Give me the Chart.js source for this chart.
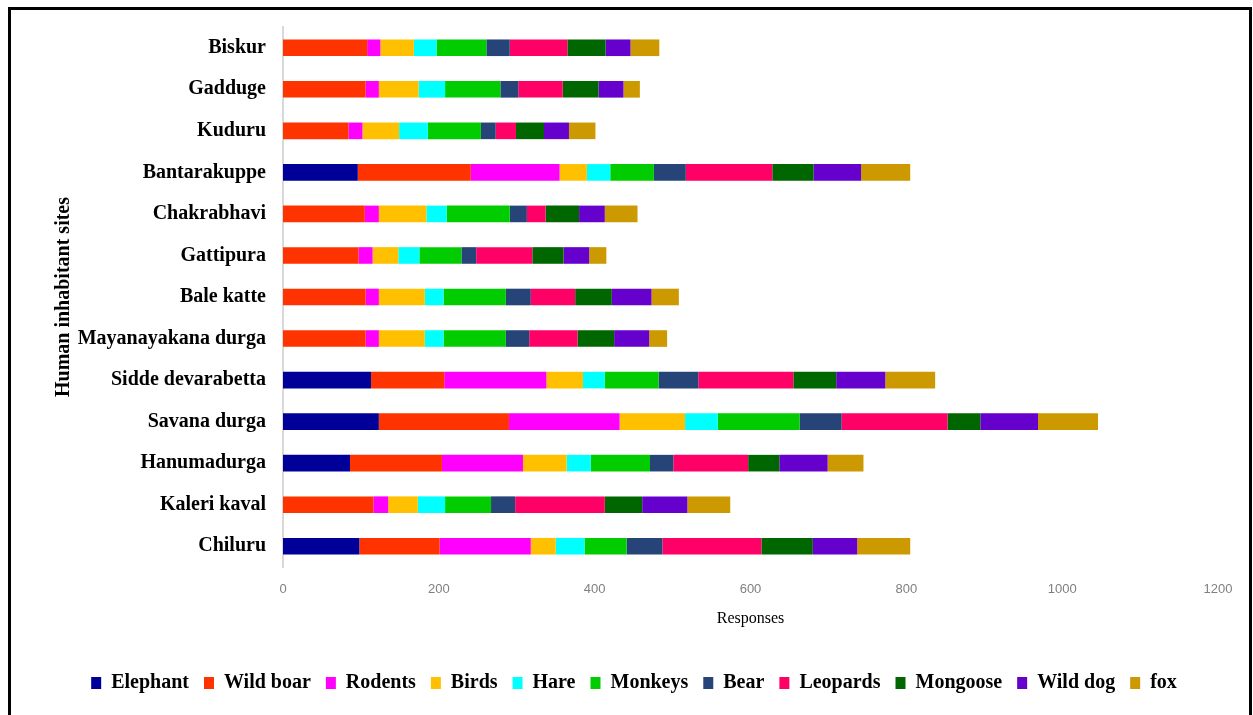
<!DOCTYPE html>
<html>
<head>
<meta charset="utf-8">
<script src="https://cdn.jsdelivr.net/npm/chart.js@4/dist/chart.umd.min.js"></script>
<style>
  html, body { margin: 0; padding: 0; background: #ffffff; }
  #wrap { position: relative; width: 1253px; height: 715px; overflow: hidden; }
  #frame {
    position: absolute; left: 8px; top: 7px; width: 1238px; height: 730px;
    border: 3px solid #000000; pointer-events: none;
  }
  canvas { position: absolute; left: 0; top: 0; }
</style>
</head>
<body>
<div id="wrap">
  <canvas id="chart" width="1253" height="715"></canvas>
  <div id="frame"></div>
</div>
<script>
// Sites, listed top to bottom
const sites = [
  'Biskur', 'Gadduge', 'Kuduru', 'Bantarakuppe', 'Chakrabhavi', 'Gattipura',
  'Bale katte', 'Mayanayakana durga', 'Sidde devarabetta', 'Savana durga',
  'Hanumadurga', 'Kaleri kaval', 'Chiluru'
];

// Responses per animal at each site (same order as sites)
const elephant = [0, 0, 0, 96, 0, 0, 0, 0, 113, 123, 86, 0, 98];
const wildBoar = [108, 106, 84, 145, 105, 97, 106, 106, 94, 167, 118, 116, 103];
const rodents  = [17, 17, 18, 114, 18, 18, 17, 17, 131, 142, 104, 19, 117];
const birds    = [43, 51, 47, 35, 61, 33, 59, 59, 47, 84, 56, 38, 32];
const hare     = [29, 34, 37, 30, 26, 27, 24, 24, 28, 42, 31, 35, 37];
const monkeys  = [64, 71, 68, 56, 81, 54, 80, 80, 69, 105, 76, 59, 54];
const bear     = [30, 23, 19, 41, 22, 19, 32, 30, 51, 54, 30, 31, 46];
const leopards = [74, 57, 26, 111, 24, 72, 57, 62, 122, 136, 96, 115, 127];
const mongoose = [49, 46, 36, 53, 43, 40, 47, 47, 55, 42, 40, 48, 66];
const wildDog  = [32, 32, 32, 61, 33, 33, 51, 45, 63, 74, 62, 58, 57];
const fox      = [37, 21, 34, 63, 42, 22, 35, 23, 64, 77, 46, 55, 68];

const xTicks = [0, 200, 400, 600, 800, 1000, 1200];

const series = [
  { label: 'Elephant',  data: elephant, color: '#000099' },
  { label: 'Wild boar', data: wildBoar, color: '#FF3300' },
  { label: 'Rodents',   data: rodents,  color: '#FF00FF' },
  { label: 'Birds',     data: birds,    color: '#FFC000' },
  { label: 'Hare',      data: hare,     color: '#00FFFF' },
  { label: 'Monkeys',   data: monkeys,  color: '#00CC00' },
  { label: 'Bear',      data: bear,     color: '#264478' },
  { label: 'Leopards',  data: leopards, color: '#FF0066' },
  { label: 'Mongoose',  data: mongoose, color: '#006600' },
  { label: 'Wild dog',  data: wildDog,  color: '#6600CC' },
  { label: 'fox',       data: fox,      color: '#CC9900' }
];

const serif = "'Liberation Serif', 'Times New Roman', serif";

new Chart(document.getElementById('chart'), {
  type: 'bar',
  data: {
    labels: sites,
    datasets: series.map(s => ({
      label: s.label,
      data: s.data,
      backgroundColor: s.color,
      borderWidth: 0,
      barPercentage: 0.4,
      categoryPercentage: 1.0
    }))
  },
  options: {
    indexAxis: 'y',
    responsive: false,
    animation: false,
    layout: { padding: { left: 50, right: 35, top: 27, bottom: 12 } },
    plugins: {
      tooltip: { enabled: false },
      legend: {
        position: 'bottom',
        labels: {
          boxWidth: 10,
          boxHeight: 12,
          padding: 15,
          color: '#000000',
          font: { family: serif, size: 20, weight: 'bold' }
        }
      }
    },
    scales: {
      x: {
        stacked: true,
        min: 0,
        max: 1200,
        afterBuildTicks: (scale) => { scale.ticks = xTicks.map(v => ({ value: v })); },
        afterFit: (scale) => { scale.height = 91; },
        grid: { display: false, drawTicks: false },
        border: { display: false },
        ticks: {
          padding: 15,
          color: '#7f7f7f',
          callback: (value) => String(value),
          font: { family: "'Liberation Sans Narrow', 'Liberation Sans', sans-serif", size: 13 }
        },
        title: {
          display: true,
          text: 'Responses',
          color: '#000000',
          padding: { top: 0, bottom: 30 },
          font: { family: serif, size: 16 }
        }
      },
      y: {
        stacked: true,
        afterFit: (scale) => {
          scale.width = 233;
          scale.paddingTop = 0;
          scale.paddingBottom = 0;
        },
        grid: { display: false, drawTicks: false },
        border: { display: true, color: '#d9d9d9', width: 2 },
        ticks: {
          padding: 17,
          color: '#000000',
          font: { family: serif, size: 20, weight: 'bold' }
        },
        title: {
          display: true,
          text: 'Human inhabitant sites',
          color: '#000000',
          padding: { top: 2, bottom: 0 },
          font: { family: serif, size: 20, weight: 'bold' }
        }
      }
    }
  }
});
</script>
</body>
</html>
